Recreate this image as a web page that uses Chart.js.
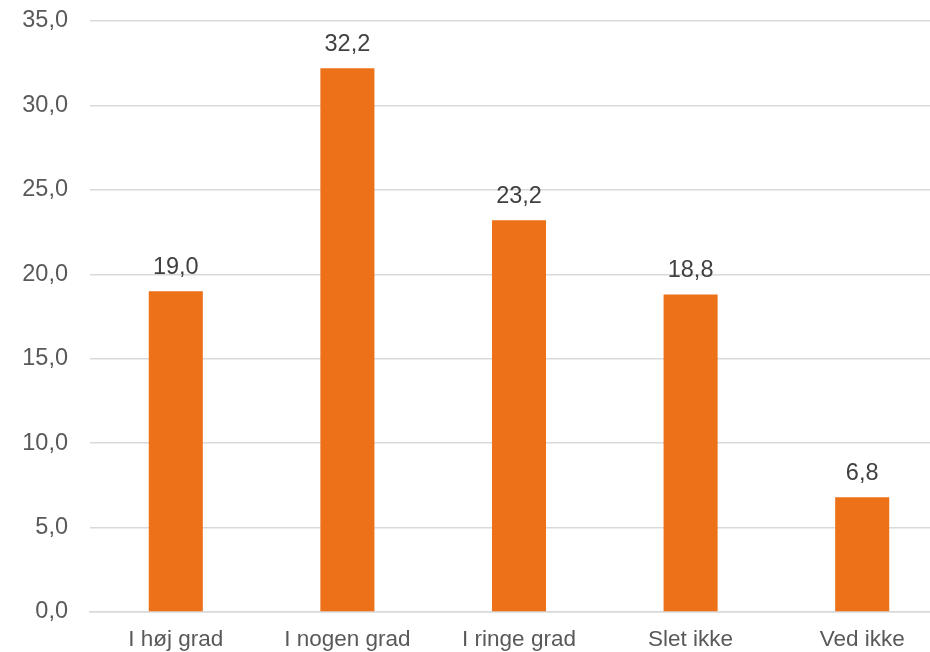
<!DOCTYPE html>
<html>
<head>
<meta charset="utf-8">
<script src="https://cdn.jsdelivr.net/npm/chart.js@4/dist/chart.umd.min.js"></script>
<style>
  html, body { margin: 0; padding: 0; background: #fff; overflow: hidden; }
  #wrap { width: 930px; height: 652px; overflow: hidden; }
</style>
</head>
<body>
<div id="wrap"><canvas id="myChart" width="948" height="652"></canvas></div>
<script>
const categories = ['I høj grad', 'I nogen grad', 'I ringe grad', 'Slet ikke', 'Ved ikke']
const values = [19.0, 32.2, 23.2, 18.8, 6.8]
const yTicks = [0, 5, 10, 15, 20, 25, 30, 35]

const fmt = v => v.toFixed(1).replace('.', ',')

// draws the value above each bar
const valueLabels = {
    id: 'valueLabels',
    afterDatasetsDraw(chart) {
        const ctx = chart.ctx
        const meta = chart.getDatasetMeta(0)
        ctx.save()
        ctx.font = '23.5px "Liberation Sans", Arial, sans-serif'
        ctx.fillStyle = '#404040'
        ctx.textAlign = 'center'
        ctx.textBaseline = 'middle'
        meta.data.forEach((bar, i) => {
            ctx.fillText(fmt(values[i]), bar.x, bar.y - 24)
        })
        ctx.restore()
    }
}

const ctx = document.querySelector('#myChart').getContext('2d')

new Chart(ctx, {
    type: 'bar',
    data: {
        labels: categories,
        datasets: [{
            data: values,
            backgroundColor: '#ED7118',
            categoryPercentage: 1,
            barPercentage: 0.315
        }]
    },
    options: {
        responsive: false,
        animation: false,
        layout: { padding: { top: 21, right: 0, bottom: 0, left: 0 } },
        plugins: {
            legend: { display: false },
            tooltip: { enabled: false }
        },
        scales: {
            y: {
                min: 0,
                max: 35,
                afterFit: s => {
                    s.width = 90
                    s.paddingTop = 0
                    s.paddingBottom = 0
                },
                afterBuildTicks: s => { s.ticks = yTicks.map(v => ({ value: v })) },
                border: { display: false },
                grid: { color: '#d9d9d9', lineWidth: 1.5, drawTicks: false },
                ticks: {
                    padding: 22,
                    color: '#595959',
                    font: { family: '"Liberation Sans", Arial, sans-serif', size: 23.5 },
                    callback: v => fmt(v)
                }
            },
            x: {
                afterFit: s => { s.height = 40 },
                border: { color: '#d9d9d9', width: 1.5 },
                grid: { display: false },
                ticks: {
                    padding: 6,
                    maxRotation: 0,
                    color: '#595959',
                    font: { family: '"Liberation Sans", Arial, sans-serif', size: 22.5 }
                }
            }
        }
    },
    plugins: [valueLabels]
})
</script>
</body>
</html>
